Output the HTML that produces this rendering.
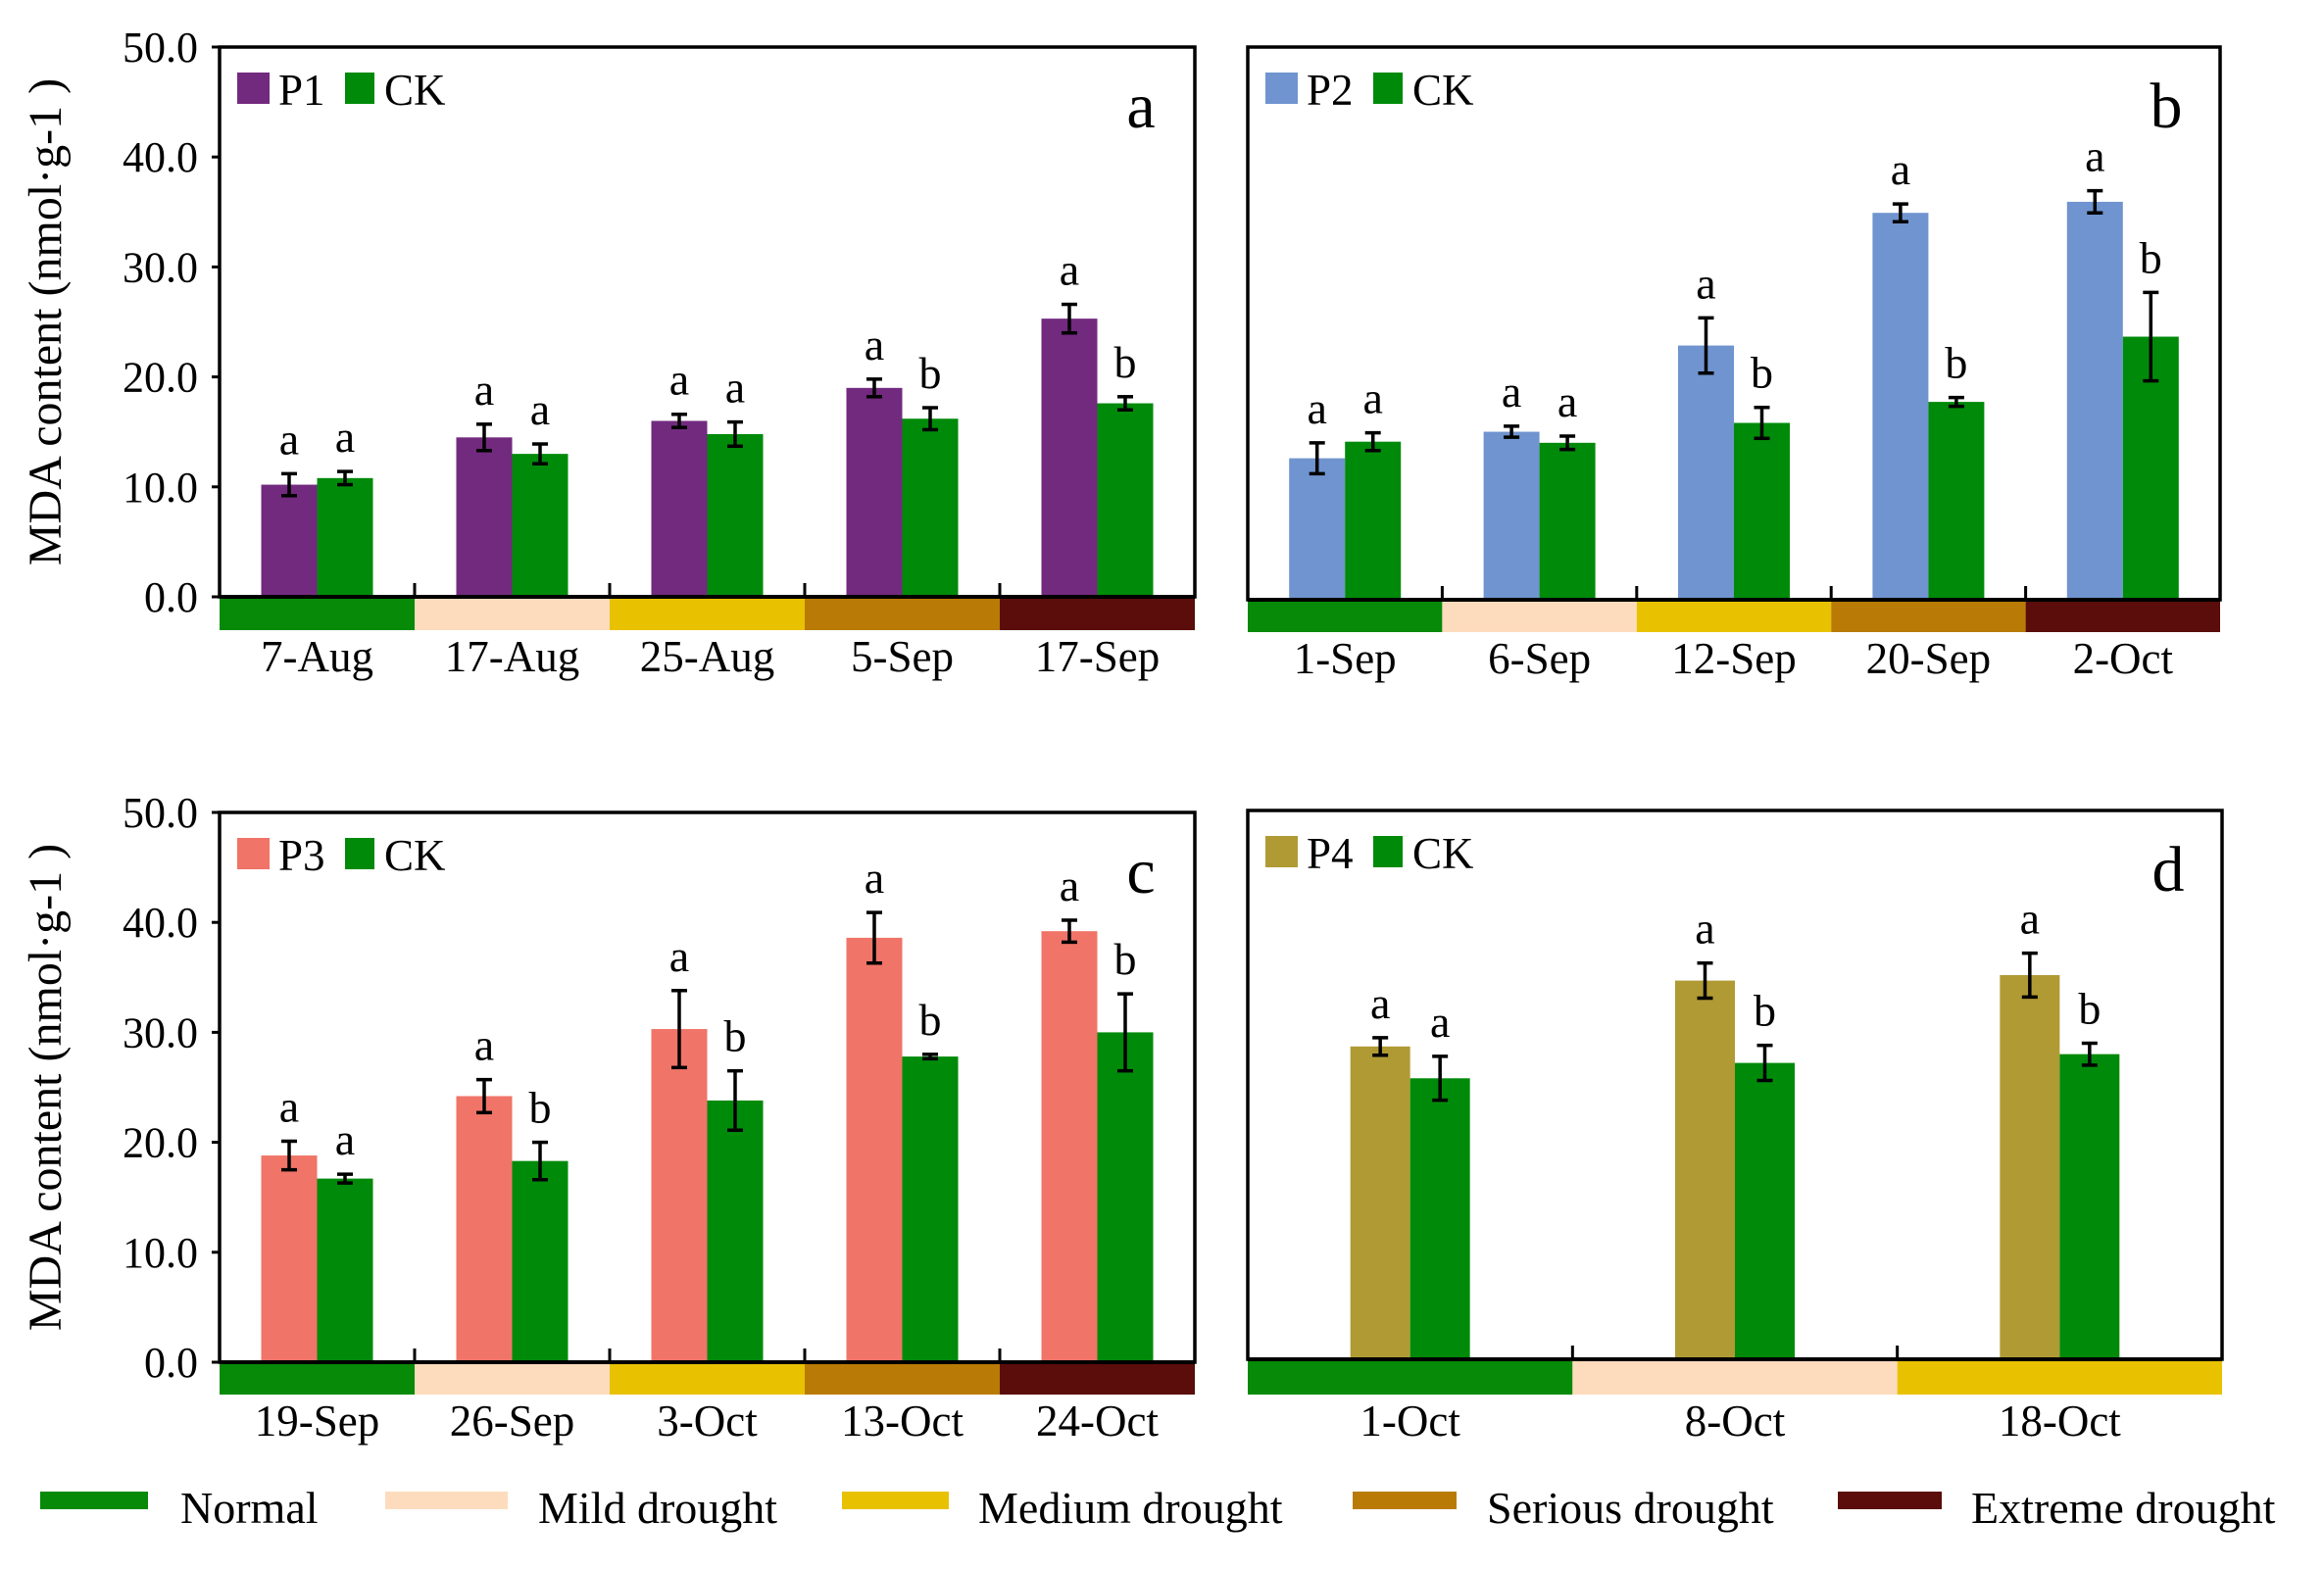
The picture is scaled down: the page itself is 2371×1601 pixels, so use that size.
<!DOCTYPE html>
<html><head><meta charset="utf-8"><style>
html,body{margin:0;padding:0;background:#fff;}
svg{display:block;font-family:"Liberation Serif",serif;}
</style></head><body>
<svg id="fig" width="2371" height="1601" viewBox="0 0 2371 1601" xmlns="http://www.w3.org/2000/svg"></svg>
<script>
const catsA=["7-Aug","17-Aug","25-Aug","5-Sep","17-Sep"];
const pA=[10.2,14.5,16.0,19.0,25.3];
const pAerr=[1.0,1.2,0.6,0.8,1.3];
const ckA=[10.8,13.0,14.8,16.2,17.6];
const ckAerr=[0.6,0.9,1.1,1.0,0.6];
const ckAlet=["a","a","a","b","b"];

const catsB=["1-Sep","6-Sep","12-Sep","20-Sep","2-Oct"];
const pB=[12.8,15.2,23.0,35.0,36.0];
const pBerr=[1.4,0.5,2.5,0.8,1.0];
const ckB=[14.3,14.2,16.0,17.9,23.8];
const ckBerr=[0.8,0.6,1.4,0.4,4.0];
const ckBlet=["a","a","b","b","b"];

const catsC=["19-Sep","26-Sep","3-Oct","13-Oct","24-Oct"];
const pC=[18.8,24.2,30.3,38.6,39.2];
const pCerr=[1.3,1.5,3.5,2.3,1.0];
const ckC=[16.7,18.3,23.8,27.8,30.0];
const ckCerr=[0.4,1.7,2.7,0.2,3.5];
const ckClet=["a","b","b","b","b"];

const catsD=["1-Oct","8-Oct","18-Oct"];
const pD=[28.5,34.5,35.0];
const pDerr=[0.8,1.6,2.0];
const ckD=[25.6,27.0,27.8];
const ckDerr=[2.0,1.6,1.0];
const ckDlet=["a","b","b"];

const yTicks=["0.0","10.0","20.0","30.0","40.0","50.0"];
const droughtNames=["Normal","Mild drought","Medium drought","Serious drought","Extreme drought"];
const bandColors=["#068a08","#fddcbd","#e8c200","#b97b05","#5a0d0b"];

const NS="http://www.w3.org/2000/svg";
const svg=document.getElementById('fig');
function mk(tag,attrs,parent){const e=document.createElementNS(NS,tag);for(const k in attrs)e.setAttribute(k,attrs[k]);(parent||svg).appendChild(e);return e;}

function panel(o){
  const g=mk('g',{});
  
  
  const L=o.left,R=o.right,T=o.top,B=o.axis;
  const y=v=>B-(v/50)*(B-T);
  const n=o.cats.length, gw=(R-L)/n;
  const fr=mk('rect',{x:L,y:T,width:R-L,height:B-T,fill:'none',stroke:'#000','stroke-width':3.5},g);
  
  for(let i=0;i<n;i++){
    const b=mk('rect',{x:L+i*gw,y:B,width:gw,height:o.band,fill:o.bands[i]},g);
    
  }
  if(o.yLabels){
    for(let i=0;i<yTicks.length;i++){
      const v=parseFloat(yTicks[i]);
      mk('line',{x1:L-8,x2:L,y1:y(v),y2:y(v),stroke:'#000','stroke-width':3},g);
      const t=mk('text',{x:L-22,y:y(v)+15,'text-anchor':'end','font-size':44},g);
      t.textContent=yTicks[i];
      
    }
    const yt=mk('text',{x:0,y:0,'text-anchor':'middle','font-size':48,transform:`translate(62,${(T+B)/2}) rotate(-90)`},g);
    yt.textContent='MDA content (nmol·g-1 )';
    
  }
  const bw=o.bw;
  for(let i=0;i<n;i++){
    const cx=L+gw*(i+0.5);
    const sets=[[o.p[i],o.pe[i],'a',cx-bw/2,o.pc,'bar-'+o.pn.toLowerCase()],[o.ck[i],o.cke[i],o.ckl[i],cx+bw/2,'#008a0a','bar-ck']];
    for(const [v,e,l,bx,col,nm] of sets){
      const r=mk('rect',{x:bx-bw/2,y:y(v),width:bw,height:B-y(v),fill:col},g);
      
      mk('line',{x1:bx,x2:bx,y1:y(v+e),y2:y(v-e),stroke:'#000','stroke-width':3.5},g);
      mk('line',{x1:bx-8,x2:bx+8,y1:y(v+e),y2:y(v+e),stroke:'#000','stroke-width':3.5},g);
      mk('line',{x1:bx-8,x2:bx+8,y1:y(v-e),y2:y(v-e),stroke:'#000','stroke-width':3.5},g);
      const t=mk('text',{x:bx,y:y(v+e)-20,'text-anchor':'middle','font-size':46},g);
      t.textContent=l;
    }
    const xl=mk('text',{x:cx,y:B+o.band+42,'text-anchor':'middle','font-size':45},g);
    xl.textContent=o.cats[i];
    if(i>0) mk('line',{x1:L+gw*i,x2:L+gw*i,y1:B-14,y2:B,stroke:'#000','stroke-width':3},g);
  }
  mk('line',{x1:L,x2:R,y1:B,y2:B,stroke:'#000','stroke-width':4},g);
  const s1=mk('rect',{x:L+18,y:T+26,width:33,height:32,fill:o.pc},g);
  
  const t1=mk('text',{x:L+60,y:T+59,'font-size':45},g);t1.textContent=o.pn;
  
  const s2=mk('rect',{x:L+128,y:T+26,width:30,height:32,fill:'#008a0a'},g);
  
  const t2=mk('text',{x:L+168,y:T+59,'font-size':45},g);t2.textContent='CK';
  
  const pl=mk('text',{x:R-55,y:T+82,'text-anchor':'middle','font-size':66},g);pl.textContent=o.letter;
  
}

panel({left:224,right:1219,top:48,axis:609,band:34,yLabels:true,cats:catsA,p:pA,pe:pAerr,ck:ckA,cke:ckAerr,ckl:ckAlet,pc:'#722a7e',pn:'P1',letter:'a',bw:57,bands:bandColors});
panel({left:1273,right:2265,top:48,axis:612,band:33,yLabels:false,cats:catsB,p:pB,pe:pBerr,ck:ckB,cke:ckBerr,ckl:ckBlet,pc:'#6f94cf',pn:'P2',letter:'b',bw:57,bands:bandColors});
panel({left:224,right:1219,top:829,axis:1390,band:33,yLabels:true,cats:catsC,p:pC,pe:pCerr,ck:ckC,cke:ckCerr,ckl:ckClet,pc:'#f07468',pn:'P3',letter:'c',bw:57,bands:bandColors});
panel({left:1273,right:2267,top:827,axis:1387,band:36,yLabels:false,cats:catsD,p:pD,pe:pDerr,ck:ckD,cke:ckDerr,ckl:ckDlet,pc:'#b09a34',pn:'P4',letter:'d',bw:61,bands:bandColors.slice(0,3)});

const legX=[41,393,859,1380,1875];
const legW=[110,125,109,106,106];
const legT=[184,549,998,1517,2011];
for(let i=0;i<droughtNames.length;i++){
  const r=mk('rect',{x:legX[i],y:1522,width:legW[i],height:18,fill:bandColors[i]});
  
  const t=mk('text',{x:legT[i],y:1554,'font-size':46});
  t.textContent=droughtNames[i];
  
}
</script>
</body></html>
